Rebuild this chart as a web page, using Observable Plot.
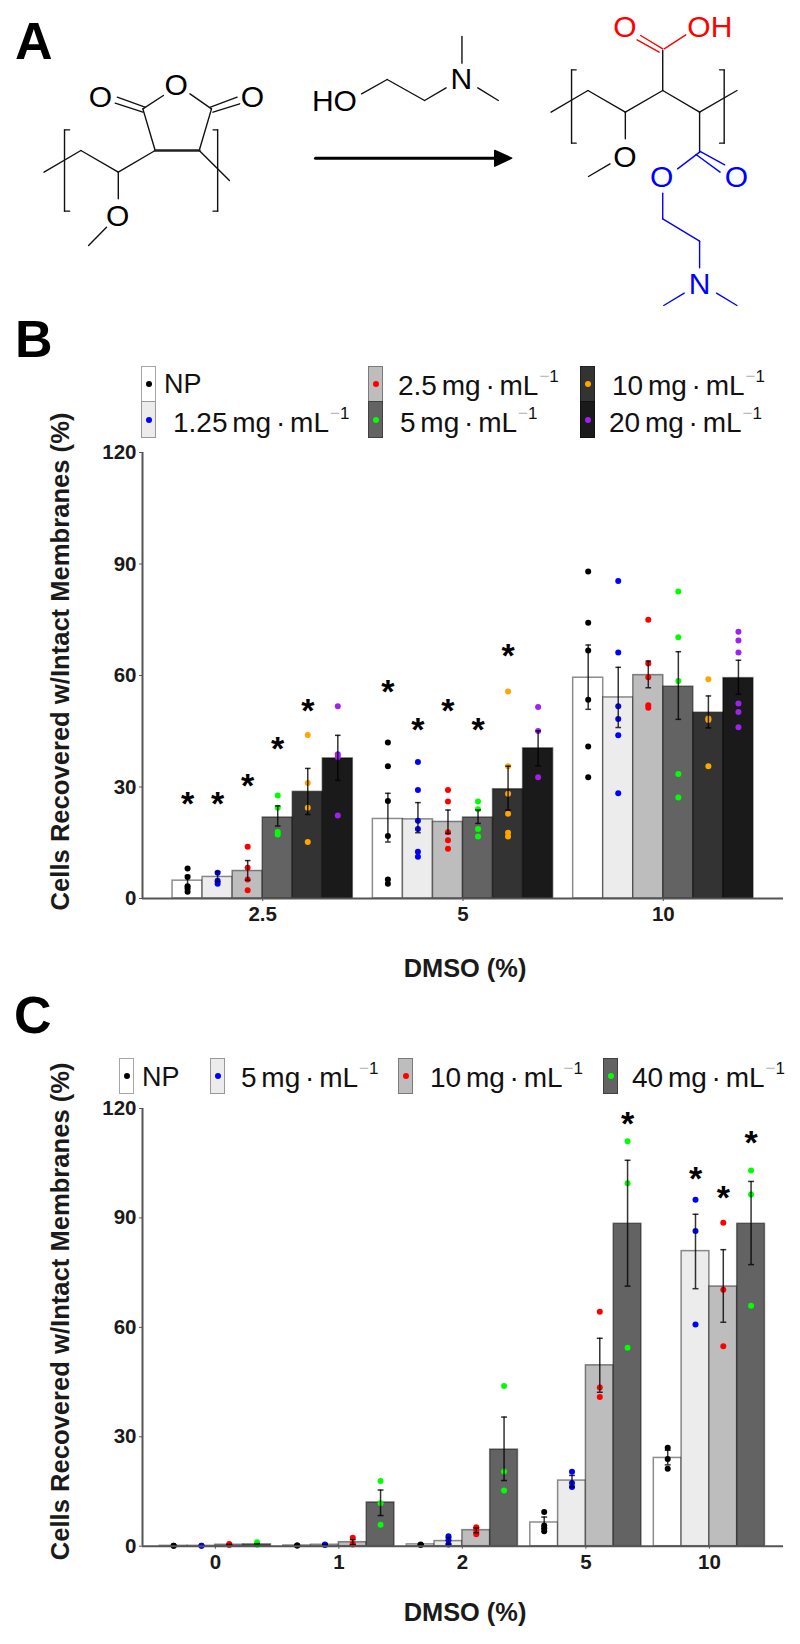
<!DOCTYPE html>
<html><head><meta charset="utf-8">
<script src="https://cdn.jsdelivr.net/npm/d3@7"></script>
<script src="https://cdn.jsdelivr.net/npm/@observablehq/plot@0.6"></script>
<style>
html,body{margin:0;padding:0;background:#fff}
#page{position:relative;width:800px;height:1644px;overflow:hidden;font-family:"Liberation Sans",Arial,sans-serif;color:#000}
.letter{position:absolute;font-weight:bold;font-size:52px;line-height:1}
.lt{position:absolute;font-size:28px;line-height:1;white-space:nowrap;color:#111;word-spacing:-3px}
.lt sup{font-size:17px;vertical-align:baseline;position:relative;top:-13px;margin-left:1px}
.lt sup i{font-style:normal;color:#bbb}
.sw{position:absolute;box-sizing:border-box;border:1.5px solid rgba(0,0,0,.35)}
.sw b{position:absolute;left:50%;top:50%;width:6px;height:6px;margin:-3px 0 0 -3px;border-radius:50%}
svg{display:block}
</style></head><body><div id="page"></div>
<script>
// ---------- Shared series styling ----------
const fillsB = ["#ffffff","#ececec","#bdbdbd","#636363","#333333","#1a1a1a"];
const dotsColorB = ["#000000","#0000ff","#ff0000","#00ff00","#ffa500","#a020f0"];
const fillsC = ["#ffffff","#ececec","#bdbdbd","#636363"];
const dotsColorC = ["#000000","#0000ff","#ff0000","#00ff00"];

// ---------- Panel B ----------
const groupsB = ["2.5","5","10"];
const meansB = [
  [4.8,5.8,7.4,21.8,28.7,37.7],
  [21.4,21.3,20.6,21.8,29.4,40.4],
  [59.4,54.1,60.1,57,50,59.3]];
const errHiB = [
  [6.2,7.2,10.2,24.9,35,43.9],
  [28.3,25.8,23.8,23.8,35.6,45.1],
  [68.2,62.2,63.9,66.4,54.5,64.1]];
const errLoB = [
  [3.3,4.5,4.9,19.5,22.6,31.8],
  [15.2,17.7,17.5,20.2,23.8,35.7],
  [50.9,46,56.7,48.2,45.9,55]];
const pointsB = [
  [[8.1,5.8,3.3,2.7,1.8],[6.9,4.8,4],[13.9,8.3,5.1,2.2],[27.7,24.4,17.9,17.2],[44,31.1,24.4,15.2],[51.7,38.8,38.1,22.3]],
  [[42,35.6,26.2,16.8,5.1,4],[36.7,29.2,20.9,18.7,12.6,11.2],[29.2,26.1,17.8,15.7,13.4],[26.1,24,18.7,16.7],[55.7,35.6,28.2,22.8,17.7,16.7],[51.5,45.1,32.6]],
  [[88,74.2,66.7,53.5,40.9,32.6],[85.4,66.2,51.7,48.3,43.9,28.3],[75,63.2,59.5,52,51.3],[82.6,70.3,58.5,33.5,27.2],[59,48.4,48,35.6],[71.8,69.4,66.2,52.5,50.2,46.1]]];
const starsB = [[0,0,26.5],[0,1,26.5],[0,2,31.5],[0,3,41.5],[0,4,51.5],[1,0,56.7],[1,1,46.5],[1,2,51.6],[1,3,46.5],[1,4,66.5]];

// ---------- Panel C ----------
const groupsC = ["0","1","2","5","10"];
const meansC = [
  [0.1,0.1,0.4,0.5],
  [0.2,0.4,1.1,12],
  [0.5,1.4,4.4,26.5],
  [6.5,18,49.6,88.4],
  [24.2,80.9,71.2,88.4]];
const errHiC = [
  [0.1,0.1,0.5,0.7],
  [0.2,0.5,1.8,15.4],
  [0.5,2.3,5,35.4],
  [8,19.4,57,105.8],
  [26.3,91,81.3,100]];
const errLoC = [
  [0.1,0.1,0.3,0.3],
  [0.2,0.3,0.4,8.4],
  [0.5,0.6,3.7,18],
  [4.8,16.2,42.2,71.3],
  [22.3,70.6,61.4,77.2]];
const pointsC = [
  [[0.1,0.1],[0.1,0.1],[0.6,0.3],[1.1,0.4]],
  [[0.2,0.2],[0.5,0.3],[2.3,0.6,0.5],[17.9,11.8,5.9]],
  [[0.5,0.3],[2.7,1.6,0.5],[5.2,4.3,3.3],[43.9,20.5,15.3]],
  [[9.4,5.7,5,4.1],[20.4,17.3,16.2],[64.3,43.5,40.9],[111,99.5,54.4]],
  [[27,23.9,21.2],[95,86.4,60.8],[88.7,70.3,54.8],[103,96.4,65.9]]];
const starsC = [[3,3,117],[4,1,102],[4,2,96.8],[4,3,111.7]];

// ---------- Panel A: structure diagram, in its own diagram units ----------
const bondsBlack = [
  [85,515,157,450],[157,450,230,515],[230,515,302,450],[230,515,230,595],[172,735,207,680],
  [388,450,447,540],[302,450,278,325],[388,450,412,325],[278,325,318,285],[412,325,370,280],
  [228,290,282,320],[224,308,278,335],[410,320,462,290],[415,335,467,310],
  [125,388,125,632],[125,388,135,388],[125,632,135,632],[424,388,424,632],[424,388,415,388],[424,632,415,632],
  [705,280,755,237],[755,237,828,300],[828,300,870,262],[901,108,901,188],[932,262,972,300],
  [1075,335,1147,270],[1147,270,1220,335],[1220,335,1293,270],[1293,270,1365,335],[1365,335,1438,270],
  [1220,335,1220,415],[1148,528,1190,490],[1293,270,1293,150],[1365,335,1365,455],
  [1115,208,1115,428],[1115,208,1124,208],[1115,428,1124,428],[1413,208,1413,428],[1413,208,1404,208],[1413,428,1404,428]];
const bondsThick = [[302,450,388,450]];
const bondsRed = [[1293,145,1250,105],[1286,155,1243,118],[1296,145,1338,103]];
const bondsBlue = [
  [1365,452,1414,493],[1358,462,1405,515],[1365,455,1322,505],
  [1293,578,1293,655],[1293,655,1365,722],[1365,722,1365,802],[1295,915,1335,878],[1398,878,1438,915]];
const labelsBlack = [["O",343,255],["O",195,290],["O",492,290],["O",229,648],["HO",652,303],["N",900,238],["O",1219,470]];
const labelsRed = [["O",1219,80],["OH",1385,80]];
const labelsBlue = [["O",1291,530],["O",1437,530],["N",1365,852]];
const arrowShaft = [[615,473,965,473]];
const arrowHead = [[965,450],[998,473],[965,497],[965,450]];

// ---------- Helpers ----------
const page = document.getElementById("page");
function place(node, top, left=0){ node.style.position="absolute"; node.style.top=top+"px"; node.style.left=left+"px"; page.appendChild(node); }
function bondMark(list, stroke, strokeWidth=1.4){
  return Plot.link(list,{x1:d=>d[0],y1:d=>d[1],x2:d=>d[2],y2:d=>d[3],stroke,strokeWidth,strokeLinecap:"round"});
}
function labelMark(list, fill){
  return Plot.text(list,{x:d=>d[1],y:d=>d[2],text:d=>d[0],fill,fontSize:30,lineAnchor:"middle"});
}

// Panel A
place(Plot.plot({
  width:800,height:330,margin:0,
  style:{fontFamily:"'Liberation Sans',Arial,sans-serif",background:"transparent"},
  x:{domain:[0,1562],range:[0,800],axis:null},
  y:{domain:[0,990],range:[0,330],axis:null},
  marks:[
    bondMark(bondsBlack,"#111"),bondMark(bondsThick,"#222",2.6),
    bondMark(bondsRed,"#ff0000"),bondMark(bondsBlue,"#0000ff"),
    labelMark(labelsBlack,"#000"),labelMark(labelsRed,"#ff0000"),labelMark(labelsBlue,"#0000ff"),
    bondMark(arrowShaft,"#000",3),
    Plot.line(arrowHead,{x:d=>d[0],y:d=>d[1],fill:"#000",stroke:"#000"})
  ]}),0);

function barChart({groups,means,errLo,errHi,points,stars,fills,dotColors,height,marginTop,marginBottom,xDomain,barW,capW,xLabelDy,yLabelDy}){
  const n = fills.length;
  const pos = (g,s)=> g+1 + (s-(n-1)/2)*barW;
  const bars=[],errs=[],dots=[];
  means.forEach((row,g)=>row.forEach((v,s)=>{
    bars.push({x:pos(g,s),v,fill:fills[s]});
    errs.push({x:pos(g,s),lo:errLo[g][s],hi:errHi[g][s]});
    points[g][s].forEach(p=>dots.push({x:pos(g,s),v:p,c:dotColors[s]}));
  }));
  const starData = stars.map(([g,s,v])=>({x:pos(g,s),v}));
  const ticks = groups.map((_,i)=>i+1);
  return Plot.plot({
    width:800,height,marginLeft:142,marginRight:17,marginTop,marginBottom,
    style:{fontFamily:"'Liberation Sans',Arial,sans-serif",background:"transparent",color:"#111"},
    x:{domain:xDomain,axis:null},
    y:{domain:[0,120],axis:null},
    marks:[
      Plot.rectY(bars,{x1:d=>d.x-barW/2,x2:d=>d.x+barW/2,y1:0,y2:"v",fill:d=>d.fill,stroke:"#000",strokeOpacity:0.45,strokeWidth:1.5}),
      Plot.dot(dots,{x:"x",y:"v",r:3,fill:d=>d.c,stroke:"none"}),
      Plot.ruleX(errs,{x:"x",y1:"lo",y2:"hi",stroke:"#000",strokeOpacity:0.8,strokeWidth:1.5}),
      Plot.link(errs,{x1:d=>d.x-capW,x2:d=>d.x+capW,y1:"lo",y2:"lo",stroke:"#000",strokeOpacity:0.8,strokeWidth:1.5}),
      Plot.link(errs,{x1:d=>d.x-capW,x2:d=>d.x+capW,y1:"hi",y2:"hi",stroke:"#000",strokeOpacity:0.8,strokeWidth:1.5}),
      Plot.ruleY([0],{stroke:"#555",strokeWidth:2}),
      Plot.ruleX([xDomain[0]],{stroke:"#555",strokeWidth:2}),
      Plot.axisX({ticks,tickFormat:i=>groups[i-1],tickSize:3,tickPadding:5,fontSize:20.5,fontWeight:"bold",label:null,stroke:"#555",fill:"#1a1a1a"}),
      Plot.axisY({ticks:[0,30,60,90,120],tickSize:3,tickPadding:3,fontSize:20.5,fontWeight:"bold",label:null,stroke:"#555",fill:"#1a1a1a"}),
      Plot.text(starData,{x:"x",y:"v",text:()=>"*",fontSize:34,fontWeight:"bold",fill:"#000",lineAnchor:"middle",dy:4.5}),
      Plot.text(["DMSO (%)"],{frameAnchor:"bottom",text:d=>d,fontSize:25.4,fontWeight:"bold",fill:"#1a1a1a",lineAnchor:"middle",dx:2,dy:xLabelDy}),
      Plot.text(["Cells Recovered w/Intact Membranes (%)"],{frameAnchor:"left",textAnchor:"middle",text:d=>d,rotate:-90,fontSize:25.6,fontWeight:"bold",fill:"#1a1a1a",lineAnchor:"middle",dx:-82,dy:yLabelDy})
    ]});
}

// Panel B chart: y=120 at page y 452, y=0 at page y 898
place(barChart({groups:groupsB,means:meansB,errLo:errLoB,errHi:errHiB,points:pointsB,stars:starsB,
  fills:fillsB,dotColors:dotsColorB,height:584,marginTop:52,marginBottom:86,
  xDomain:[0.4,3.6],barW:0.15,capW:0.014,xLabelDy:70,yLabelDy:-14}),400);

// Panel C chart: y=120 at page y 1108, y=0 at page y 1545.7
place(barChart({groups:groupsC,means:meansC,errLo:errLoC,errHi:errHiC,points:pointsC,stars:starsC,
  fills:fillsC,dotColors:dotsColorC,height:594,marginTop:58,marginBottom:98.3,
  xDomain:[0.41,5.6],barW:0.225,capW:0.024,xLabelDy:67,yLabelDy:-16}),1050);

// ---------- Legends and panel letters (HTML above each chart) ----------
function addLetter(t,left,top){ const e=document.createElement("div"); e.className="letter"; e.textContent=t; e.style.left=left+"px"; e.style.top=top+"px"; page.appendChild(e); }
addLetter("A",15,15); addLetter("B",15,313); addLetter("C",14,989);

function addSwatch(fill,dot,left,top,w,h){
  const s=document.createElement("div"); s.className="sw";
  Object.assign(s.style,{left:left+"px",top:top+"px",width:w+"px",height:h+"px",background:fill});
  const b=document.createElement("b"); b.style.background=dot; s.appendChild(b); page.appendChild(s);
}
function addText(label,left,base,unit=true){
  const e=document.createElement("div"); e.className="lt";
  e.innerHTML = unit ? label+" mg · mL<sup><i>−</i>1</sup>" : label;
  e.style.left=left+"px"; e.style.top=(base-23)+"px"; if(!unit) e.style.fontSize="27px"; page.appendChild(e);
}
const legendNamesB=["1.25","2.5","5","10","20"];
addSwatch(fillsB[0],dotsColorB[0],141,366,15,36); addSwatch(fillsB[1],dotsColorB[1],141,401,15,37);
addSwatch(fillsB[2],dotsColorB[2],368,366,15,36); addSwatch(fillsB[3],dotsColorB[3],368,401,15,37);
addSwatch(fillsB[4],dotsColorB[4],580,366,15,36); addSwatch(fillsB[5],dotsColorB[5],580,401,15,37);
addText("NP",164,394,false);
addText(legendNamesB[0],173,432); addText(legendNamesB[1],398,395); addText(legendNamesB[2],400,432);
addText(legendNamesB[3],612,395); addText(legendNamesB[4],609,432);

const legendNamesC=["5","10","40"];
addSwatch(fillsC[0],dotsColorC[0],119,1058,15,36); addSwatch(fillsC[1],dotsColorC[1],210,1058,15,36);
addSwatch(fillsC[2],dotsColorC[2],398,1058,15,36); addSwatch(fillsC[3],dotsColorC[3],603,1058,15,36);
addText("NP",142,1087,false);
addText(legendNamesC[0],241,1087); addText(legendNamesC[1],430,1087); addText(legendNamesC[2],632,1087);
</script>
</body></html>
